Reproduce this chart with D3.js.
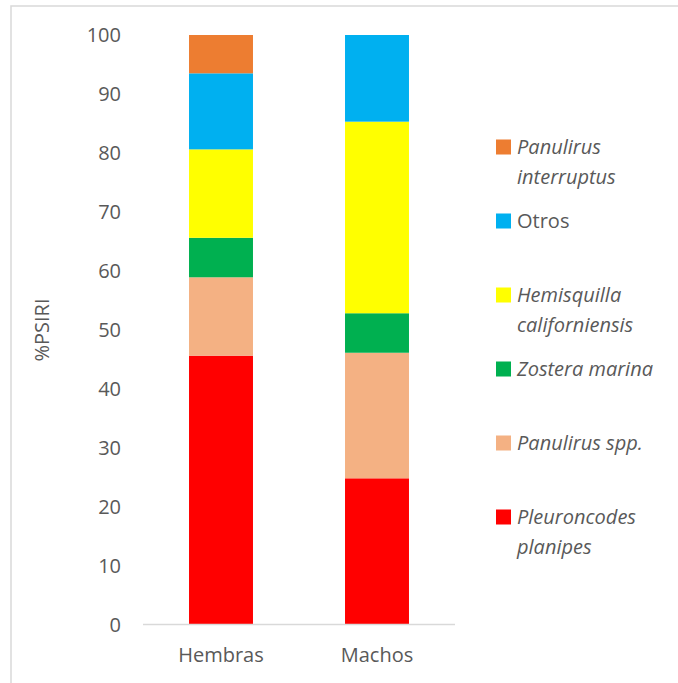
<!DOCTYPE html>
<html>
<head>
<meta charset="utf-8">
<script src="https://cdn.jsdelivr.net/npm/d3@7"></script>
<style>
  html, body { margin: 0; padding: 0; background: #fff; }
  svg { display: block; }
  text { font-family: "Open Sans", sans-serif; }
</style>
</head>
<body>
<svg id="chart" width="678" height="683"></svg>
<script>
// ---- data ----
const categories = ["Hembras", "Machos"];
const seriesNames = ["Pleuroncodes planipes", "Panulirus spp.", "Zostera marina", "Hemisquilla californiensis", "Otros", "Panulirus interruptus"];
const pleuroncodes = [45.6, 24.8];
const panulirusSpp = [13.3, 21.3];
const zostera = [6.7, 6.7];
const hemisquilla = [15.0, 32.5];
const otros = [12.9, 14.7];
const interruptus = [6.5, 0];
const yTicks = [0, 10, 20, 30, 40, 50, 60, 70, 80, 90, 100];
const legendLines = [["Panulirus", "interruptus"], ["Otros"], ["Hemisquilla", "californiensis"], ["Zostera marina"], ["Panulirus spp."], ["Pleuroncodes", "planipes"]];
const legendItalic = [true, false, true, true, true, true];
const colors = ["#FF0000", "#F4B183", "#00B050", "#FFFF00", "#00B0F0", "#ED7D31"];

const values = [pleuroncodes, panulirusSpp, zostera, hemisquilla, otros, interruptus];
const rows = categories.map((c, i) => {
  const r = { cat: c };
  seriesNames.forEach((s, j) => r[s] = values[j][i]);
  return r;
});

const svg = d3.select("#chart");

// outer frame
svg.append("rect").attr("x", 11).attr("y", 6).attr("width", 700).attr("height", 700)
  .attr("fill", "none").attr("stroke", "#d9d9d9").attr("stroke-width", 1.5);

const x = d3.scaleBand().domain(categories).range([143, 455]).paddingInner(0.59).paddingOuter(0.295);
const y = d3.scaleLinear().domain([0, 100]).range([624.5, 35]);

const stack = d3.stack().keys(seriesNames)(rows);

svg.append("g").selectAll("g").data(stack).join("g")
  .attr("fill", (d, i) => colors[i])
  .selectAll("rect").data(d => d).join("rect")
  .attr("x", d => x(d.data.cat))
  .attr("width", x.bandwidth())
  .attr("y", d => y(d[1]))
  .attr("height", d => Math.max(0, y(d[0]) - y(d[1])));

// x axis line
svg.append("line").attr("x1", 143).attr("x2", 455).attr("y1", y(0)).attr("y2", y(0))
  .attr("stroke", "#d9d9d9").attr("stroke-width", 1.5);

// y tick labels
svg.append("g").selectAll("text").data(yTicks).join("text")
  .attr("x", 121).attr("y", d => y(d)).attr("dy", "0.35em")
  .attr("text-anchor", "end").attr("font-size", 20).attr("fill", "#595959")
  .text(d => d);

// x labels
svg.append("g").selectAll("text").data(categories).join("text")
  .attr("x", d => x(d) + x.bandwidth() / 2).attr("y", 662)
  .attr("text-anchor", "middle").attr("font-size", 20).attr("fill", "#595959")
  .text(d => d);

// y axis title
svg.append("text").attr("transform", "translate(49,330) rotate(-90)")
  .attr("text-anchor", "middle").attr("font-size", 20).attr("fill", "#595959")
  .text("%PSIRI");

// legend (top to bottom: reverse of stack order)
const legendColors = colors.slice().reverse();
const lg = svg.append("g").selectAll("g").data(legendLines).join("g")
  .attr("transform", (d, i) => `translate(496,${147 + i * 74})`);
lg.append("rect").attr("x", 0).attr("y", -7.5).attr("width", 15).attr("height", 15)
  .attr("fill", (d, i) => legendColors[i]);
lg.each(function(d, i) {
  const t = d3.select(this).append("text")
    .attr("x", 21).attr("y", 7).attr("font-size", 20).attr("fill", "#595959")
    .attr("font-style", legendItalic[i] ? "italic" : "normal");
  d.forEach((line, k) => {
    t.append("tspan").attr("x", 21).attr("y", 7 + k * 29.5).text(line);
  });
});
</script>
</body>
</html>
